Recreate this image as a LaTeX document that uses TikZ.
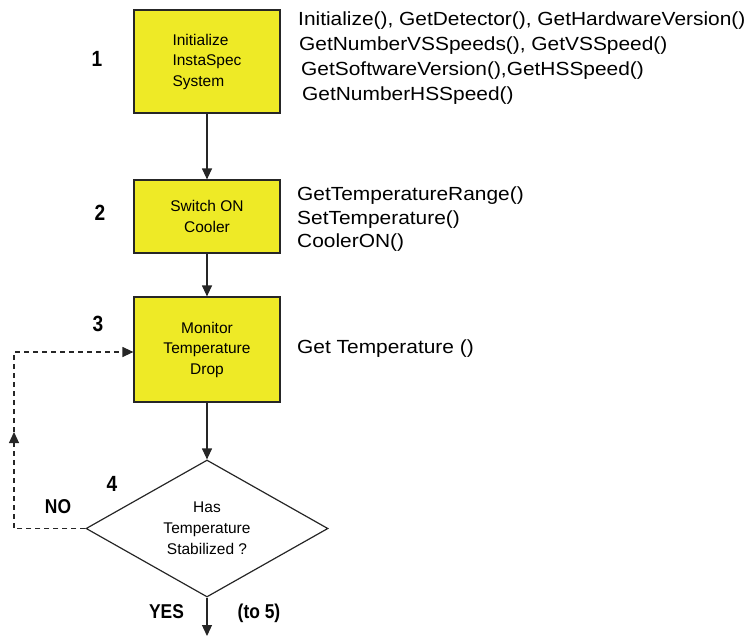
\documentclass[tikz,border=0pt]{standalone}
\usepackage{fontspec}
\setmainfont{Liberation Sans}
\newfontfamily\apifont[FakeStretch=1.1]{Liberation Sans}
\newfontfamily\tagfont[FakeStretch=0.87]{Liberation Sans}
\usetikzlibrary{shapes.geometric,arrows.meta}
\definecolor{stageyellow}{RGB}{238,234,38}
\tikzset{
  stage/.style={draw=black!85, line width=1.2pt, fill=stageyellow, minimum width=146pt,
    inner sep=0pt, align=center, font=\fontsize{15.5}{20.5}\selectfont},
  decision/.style={diamond, draw=black!85, line width=1.2pt, minimum width=242pt,
    minimum height=137pt, shape aspect=1.77, inner sep=0pt, align=center,
    font=\fontsize{15.5}{21}\selectfont},
  api/.style={anchor=base west, inner sep=0pt, font=\apifont\fontsize{19}{25}\selectfont},
  numtag/.style={anchor=base, inner sep=0pt, font=\tagfont\bfseries\fontsize{22}{22}\selectfont},
  answer/.style={anchor=base, inner sep=0pt, font=\tagfont\bfseries\fontsize{20}{20}\selectfont},
  flow/.style={-{Triangle[length=11pt,width=10pt]}, line width=1.2pt, black!85},
  loopback/.style={flow, dash pattern=on 5pt off 4pt}
}

\begin{document}
\begin{tikzpicture}[x=1pt,y=-1pt]
\useasboundingbox (0,0) rectangle (750,637);
% flow boxes
\node[stage, minimum height=103pt, align=left] (init) at (207,61.5) {Initialize\\InstaSpec\\System};
\node[stage, minimum height=73pt] (cooler) at (207,216.5) {Switch ON\\Cooler};
\node[stage, minimum height=105pt] (monitor) at (207,349.5) {Monitor\\Temperature\\Drop};
\node[decision] (stable) at (207,528.5) {Has\\Temperature\\Stabilized ?};
% step numbers
\foreach \n/\x/\y in {1/97/66, 2/100/220, 3/98/331.5, 4/112/491}
  \node[numtag] (num\n) at (\x,\y) {\n};
\node[answer] (no) at (58,513) {NO};
\node[answer] (yes) at (166.5,618) {YES};
\node[answer] (tofive) at (259,618) {(to 5)};
% function calls
\foreach \i/\x/\y/\txt in {1/298/25/{Initialize(), GetDetector(), GetHardwareVersion()},
    2/299/50/{GetNumberVSSpeeds(), GetVSSpeed()},
    3/301/75/{GetSoftwareVersion(),GetHSSpeed()},
    4/302/100.5/{GetNumberHSSpeed()}}
  \node[api] (initapi\i) at (\x,\y) {\txt};
\foreach \i/\y/\txt in {1/200.5/{GetTemperatureRange()}, 2/224/{SetTemperature()}, 3/247.5/{CoolerON()}}
  \node[api] (coolapi\i) at (297,\y) {\txt};
\node[api] (monapi) at (297,353) {Get Temperature ()};
% connectors
\coordinate (exit) at (207,636);
\coordinate (loopbot) at (14,528.5);
\coordinate (loopmid) at (14,432);
\coordinate (looptop) at (14,352);
\draw[flow] (init) -- (cooler);
\draw[flow] (cooler) -- (monitor);
\draw[flow] (monitor) -- (stable);
\draw[flow] (stable) -- (exit);
\draw[loopback] (stable.west) -- (loopbot) -- (loopmid);
\draw[loopback] (loopmid) -- (looptop) -- (looptop -| monitor.west);
\end{tikzpicture}
\end{document}
